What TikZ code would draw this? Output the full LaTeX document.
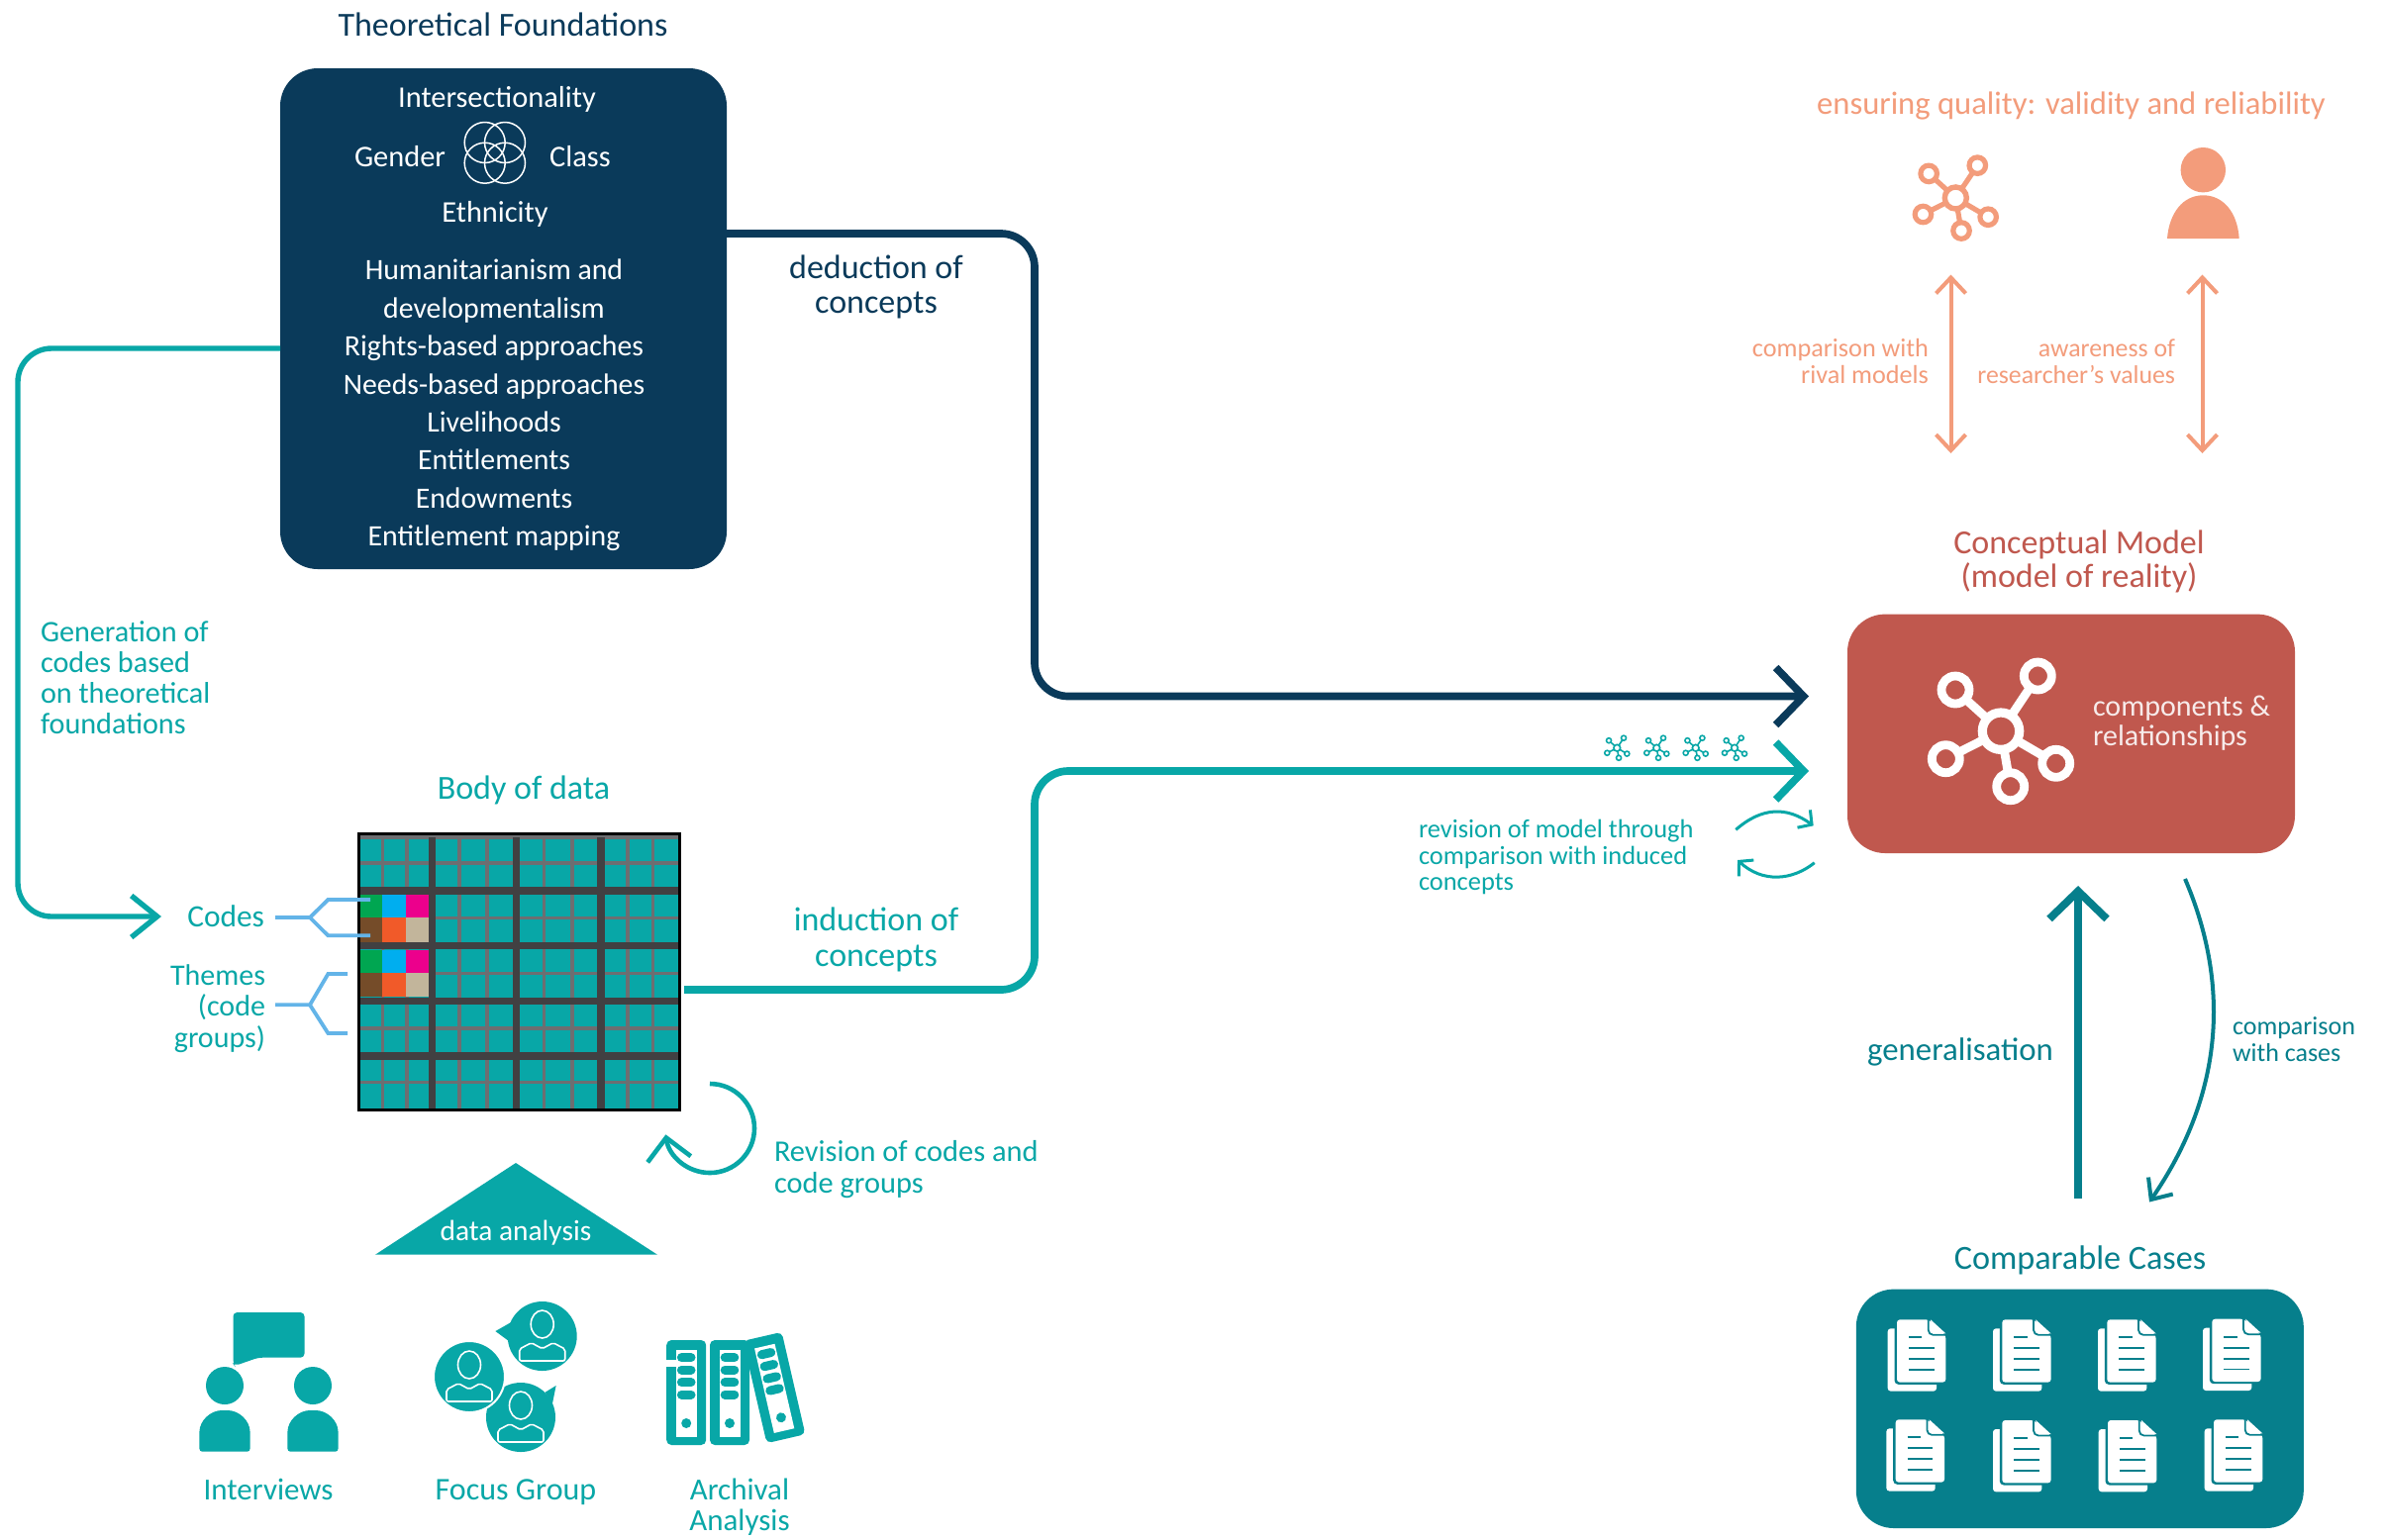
\documentclass[tikz,border=0pt]{standalone}
\usepackage{fontspec}
\setmainfont{Carlito}
\usetikzlibrary{arrows.meta}
\definecolor{navyc}{HTML}{0A3A5A}
\definecolor{tealc}{HTML}{08A7A7}
\definecolor{dteal}{HTML}{067F8C}
\definecolor{redc}{HTML}{C0584E}
\definecolor{peach}{HTML}{F39C7B}
\definecolor{blueb}{HTML}{63B4E8}
\definecolor{gmaj}{HTML}{414042}
\definecolor{gmin}{HTML}{6D6E71}
\definecolor{cga}{HTML}{00A651}
\definecolor{cgb}{HTML}{00AEEF}
\definecolor{cgc}{HTML}{EC008C}
\definecolor{cgd}{HTML}{754C29}
\definecolor{cge}{HTML}{F15A29}
\definecolor{cgf}{HTML}{C2B59B}
\newcommand{\fz}[2]{\fontsize{#1}{#2}\selectfont}
\tikzset{
 txt/.style={inner sep=0pt,outer sep=0pt,align=center,yshift=-1.5pt},
 ltxt/.style={inner sep=0pt,outer sep=0pt,align=left,anchor=west,yshift=-1.5pt},
 rtxt/.style={inner sep=0pt,outer sep=0pt,align=right,anchor=east,yshift=-1pt},
 big/.style={font=\fz{17}{17}},
 inbox/.style={font=\fz{15.2}{15.2}},
 bbox/.style={inner sep=0pt,outer sep=0pt,rounded corners=19pt,draw=none},
 bigbarb/.style={-{Straight Barb[length=14pt,width=29pt]}},
 midbarb/.style={-{Straight Barb[length=13pt,width=21pt]}},
 revbarb/.style={-{Straight Barb[length=11pt,width=22pt]}},
 compbarb/.style={-{Straight Barb[length=8.5pt,width=15pt]}},
 tinybarb/.style={-{Straight Barb[length=5pt,width=11pt]}},
 dblbarb/.style={{Straight Barb[length=8pt,width=15pt]}-{Straight Barb[length=8pt,width=15pt]}},
 thickcon/.style={line width=3.85pt,rounded corners=17pt},
}
% network icon: x y scale stroke fill
\newcommand{\netw}[5]{%
\begin{scope}[shift={(#1,#2)},x={0.5pt*#3},y={-0.5pt*#3}]
 \foreach \sx/\sy in {-46/-41.7,37.3/-55.7,-55.7/28,55.7/32.6,9.7/56}{
   \draw[#4,line width={4.4pt*#3}] (0,0)--(\sx,\sy);
   \draw[#4,fill=#5,line width={4.4pt*#3}] (\sx,\sy) circle (14);
 }
 \draw[#4,fill=#5,line width={4.6pt*#3}] (0,0) circle (18.7);
\end{scope}}
% document icon, top-left of front page
\newcommand{\docu}[2]{%
\begin{scope}[shift={(#1,#2)}]
 \fill[white,rounded corners=1.5pt] (-9.3,9) rectangle (40,72.3);
 \fill[dteal,rounded corners=2pt] (-2.5,-1) rectangle (51,65.5);
 \fill[white,rounded corners=1.5pt] (0,0)--(32,0)--(49.3,16)--(49.3,63.3)--(0,63.3)--cycle;
 \fill[dteal] (32,-2)--(52,-2)--(52,17)--cycle;
 \draw[dteal,line width=.9pt,rounded corners=2.5pt] (31.7,-1)--(31.7,15.5)--(50,15.5);
 \fill[white] (34,0)--(49.3,14)--(36,14)--cycle;
 \draw[dteal,line width=.9pt] (12,18)--(25.3,18) (12,29)--(37.5,29) (12,40)--(37.5,40) (12,50.7)--(37.5,50.7);
\end{scope}}
% binder, centred
\newcommand{\binder}[3]{%
\begin{scope}[shift={(#1,#2)},rotate=#3]
 \fill[tealc,rounded corners=2.5pt] (-20,-53) rectangle (20,53);
 \fill[white] (-10.5,-43) rectangle (10.5,44.7);
 \foreach \yy in {-35.3,-23,-10.3,2}{\draw[tealc,line width=4.5pt,line cap=round] (-4.8,\yy)--(4.8,\yy);}
 \fill[tealc] (0,31) circle (5);
\end{scope}}
% focus group person
\newcommand{\fgp}[2]{%
\begin{scope}[shift={(#1,#2)}]
 \draw[white,line width=.8pt] (0,-12) ellipse (11.5 and 14);
 \draw[white,line width=.8pt,rounded corners=1pt] (-23,25)--(-23,13)--(-11,6.7)--(0,12.7)--(11,6.7)--(23,13)--(23,25)--cycle;
\end{scope}}
\begin{document}
\begin{tikzpicture}[x=0.5pt,y=-0.5pt]
\useasboundingbox (0,0) rectangle (2409,1555);
\fill[white] (0,0) rectangle (2409,1555);

% Theoretical foundations
\node[txt,big,text=navyc] (tftitle) at (508,22) {Theoretical Foundations};
\node[bbox,fill=navyc,minimum width=225.5pt,minimum height=253pt] (found) at (508.5,322) {};
\node[txt,inbox,text=white] (inter) at (502,97) {Intersectionality};
\node[txt,inbox,text=white] (gender) at (404,155) {Gender};
\node[txt,inbox,text=white] (classn) at (586,155) {Class};
\node[txt,inbox,text=white] (ethn) at (500,213) {Ethnicity};
\foreach \cx/\cy in {489.7/144,510/144,489.7/164.7,510/164.7}{\draw[white,line width=.75pt] (\cx,\cy) circle (20.5);}
\node[txt,text=white,font=\fz{14.9}{19.2}] (tflist) at (499,406.5) {Humanitarianism and\\developmentalism\\Rights-based approaches\\Needs-based approaches\\Livelihoods\\Entitlements\\Endowments\\Entitlement mapping};

% Connectors from foundations
\coordinate (dedS) at (734,236);
\coordinate (dedE) at (1827,703.5);
\coordinate (dedC) at (1045,236);
\coordinate (dedD) at (1045,703.5);
\draw[navyc,thickcon,bigbarb] (dedS)--(dedC)--(dedD)--(dedE);
\node[txt,big,text=navyc,font=\fz{17}{17.5}] (dedl) at (885,287) {deduction of\\concepts};

\coordinate (genS) at (283,352);
\coordinate (genA) at (18,352);
\coordinate (genB) at (18,926);
\coordinate (genE) at (163,926);
\draw[tealc,line width=2.7pt,rounded corners=17pt,midbarb] (genS)--(genA)--(genB)--(genE);
\node[ltxt,text=tealc,font=\fz{15.1}{15.5}] (genl) at (41,682) {Generation of\\codes based\\on theoretical\\foundations};

% Body of data
\node[txt,big,text=tealc] (bodyt) at (529,795) {Body of data};
\node[inner sep=0pt,outer sep=0pt,fill=tealc,minimum width=161.8pt,minimum height=139.3pt] (bodyg) at (524.5,982) {};
\begin{scope}
 \foreach \xx in {386.6,411,464.2,492.2,549.6,577.9,633.8,659.4}{\fill[gmin] (\xx-1.8,844) rectangle (\xx+1.8,1120);}
 \foreach \yy in {872,927.3,983.7,1039,1093.7}{\fill[gmin] (364,\yy-1.7) rectangle (685,\yy+1.7);}
 \fill[gmin] (364,844) rectangle (685,847.5);
 \foreach \xx in {436.3,521.6,607}{\fill[gmaj] (\xx-3.8,846) rectangle (\xx+3.8,1120);}
 \foreach \yy in {900,955.3,1011.3,1067}{\fill[gmaj] (364,\yy-3.6) rectangle (685,\yy+3.6);}
 \foreach \ya/\yb/\yc in {903.7/927/952,959.7/983/1007.3}{
  \fill[cga] (364,\ya) rectangle (386,\yb);
  \fill[cgb] (386,\ya) rectangle (410,\yb);
  \fill[cgc] (410,\ya) rectangle (432.5,\yb);
  \fill[cgd] (364,\yb) rectangle (386,\yc);
  \fill[cge] (386,\yb) rectangle (410,\yc);
  \fill[cgf] (410,\yb) rectangle (432.5,\yc);
 }
 \draw[black,line width=1.7pt] (bodyg.south west) rectangle (bodyg.north east);
\end{scope}
% brackets
\coordinate (cb) at (313,927); \coordinate (cs) at (278,927);
\coordinate (cu) at (331.4,909); \coordinate (cue) at (374,909);
\coordinate (cd) at (331.4,945.3); \coordinate (cde) at (374,945.3);
\draw[blueb,line width=1.9pt] (cs)--(cb)--(cu)--(cue) (cb)--(cd)--(cde);
\coordinate (tb) at (313,1015.3); \coordinate (ts) at (278,1015.3);
\coordinate (tu) at (331.4,984); \coordinate (tue) at (351,984);
\coordinate (td) at (331.4,1044); \coordinate (tde) at (351,1044);
\draw[blueb,line width=1.9pt] (ts)--(tb)--(tu)--(tue) (tb)--(td)--(tde);
\node[rtxt,text=tealc,font=\fz{15.7}{15}] (codesl) at (267,923.5) {Codes};
\node[rtxt,text=tealc,font=\fz{15}{15.8}] (themesl) at (268,1017) {Themes\\(code\\groups)};

% Induction
\coordinate (indS) at (691,1000);
\coordinate (indC) at (1045,1000);
\coordinate (indD) at (1045,779);
\coordinate (indE) at (1827,779);
\draw[tealc,thickcon,bigbarb] (indS)--(indC)--(indD)--(indE);
\node[txt,text=tealc,font=\fz{17}{18}] (indl) at (885,946) {induction of\\concepts};
\foreach \xx in {1633.3,1673.3,1712.7,1752}{\netw{\xx}{755.7}{0.18}{tealc}{white}}

% Revision arrow
\coordinate (revS) at (717,1095);
\draw[tealc,line width=2.3pt,revbarb] (revS) arc (-90:172:45);
\node[ltxt,text=tealc,font=\fz{15.2}{16}] (revl) at (782,1179) {Revision of codes and\\code groups};

% Data analysis
\fill[tealc] (521,1175)--(664,1267.7)--(379,1267.7)--cycle;
\node[txt,text=white,font=\fz{14.7}{15}] (dal) at (521,1243) {data analysis};

% Interviews
\fill[tealc,rounded corners=2pt] (235.5,1326)--(307.5,1326)--(307.5,1371.7)--(261,1371.7)--(237,1380)--(235.5,1378)--cycle;
\foreach \px in {227,316}{
 \fill[tealc] (\px,1400) circle (19);
 \fill[tealc,rounded corners=1.5pt] (\px-25.6,1466.7)--(\px-25.6,1450) .. controls (\px-25.6,1435) and (\px-14,1425) .. (\px,1425) .. controls (\px+14,1425) and (\px+25.6,1435) .. (\px+25.6,1450)--(\px+25.6,1466.7)--cycle;
}
\node[txt,text=tealc,font=\fz{15.5}{15}] (intl) at (271,1502) {Interviews};

% Focus group
\fill[tealc] (547.7,1350) circle (35);
\fill[tealc] (500.4,1345)--(518,1335)--(518,1358)--cycle;
\fgp{547.7}{1350}
\fill[tealc] (526,1432) circle (35);
\fill[tealc] (561.6,1400)--(550.7,1406.7)--(558,1418)--cycle;
\fgp{526}{1432}
\draw[white,line width=1pt,fill=tealc] (474,1391) circle (36);
\fgp{474}{1391}
\node[txt,text=tealc,font=\fz{16}{15}] (fgl) at (521,1505) {Focus Group};

% Binders
\binder{782}{1402}{13}
\binder{693.2}{1407}{0}
\binder{737}{1407}{0}
\fill[white] (672,1374) rectangle (682.6,1381);
\node[txt,text=tealc,font=\fz{15.5}{15.5}] (arcl) at (747,1520) {Archival\\Analysis};

% Quality
\node[txt,text=peach,font=\fz{16.3}{17}] (qual) at (2092,104) {ensuring quality: validity and reliability};
\netw{1975.3}{200}{0.59}{peach}{white}
\fill[peach] (2225.3,171.7) circle (22.7);
\fill[peach] (2189,241) .. controls (2191,215) and (2205,197.3) .. (2225.3,197.3) .. controls (2246,197.3) and (2260,215) .. (2261.7,241)--cycle;
\coordinate (q1a) at (1970.5,277.5); \coordinate (q1b) at (1970.5,458);
\coordinate (q2a) at (2224.5,277.5); \coordinate (q2b) at (2224.5,458);
\draw[peach,line width=2pt,dblbarb] (q1a)--(q1b);
\draw[peach,line width=2pt,dblbarb] (q2a)--(q2b);
\node[rtxt,text=peach,font=\fz{13.1}{13.5}] (q1l) at (1948,363) {comparison with\\rival models};
\node[rtxt,text=peach,font=\fz{12.9}{13.5}] (q2l) at (2197,363) {awareness of\\researcher's values};

% Conceptual model
\node[txt,text=redc,font=\fz{17}{17}] (cmt) at (2100,564) {Conceptual Model\\(model of reality)};
\node[bbox,fill=redc,minimum width=226pt,minimum height=120.7pt] (cm) at (2092,741.3) {};
\netw{2021}{738.7}{1}{white}{redc}
\node[ltxt,text=white!88!redc,font=\fz{15}{15}] (compl) at (2114,728) {components \&\\relationships};

% revision arcs
\node[ltxt,text=tealc,font=\fz{13.2}{13.2}] (revm) at (1433,863) {revision of model through\\comparison with induced\\concepts};
\coordinate (raS) at (1753.3,838.3); \coordinate (raE) at (1831.7,834.3);
\coordinate (rbS) at (1832.7,871.7); \coordinate (rbE) at (1755,869);
\draw[tealc,line width=1.5pt,tinybarb] (raS) .. controls (1780,815) and (1805,815) .. (raE);
\draw[tealc,line width=1.5pt,tinybarb] (rbS) .. controls (1810,890) and (1780,892) .. (rbE);

% Comparable cases
\coordinate (gS) at (2099,1211); \coordinate (gE) at (2099,895);
\draw[dteal,line width=3.9pt,bigbarb] (gS)--(gE);
\node[txt,text=dteal,font=\fz{16.4}{17}] (genlab) at (1980,1060) {generalisation};
\coordinate (cS) at (2207,888); \coordinate (cE) at (2171,1214.5);
\draw[dteal,line width=2pt,compbarb] (cS) .. controls (2255,1000) and (2243,1110) .. (cE);
\node[ltxt,text=dteal,font=\fz{13}{13.4}] (cwc) at (2255,1047) {comparison\\with cases};
\node[txt,text=dteal,font=\fz{17.1}{17}] (cct) at (2101,1270) {Comparable Cases};
\node[bbox,fill=dteal,minimum width=226pt,minimum height=120.7pt] (cc) at (2100.8,1423.3) {};
\foreach \dx/\dy in {1916/1333.3,2022.3/1333.3,2128.3/1333.3,2234.3/1332.7,1914.7/1434.3,2022.3/1435,2129/1435,2236/1434.3}{\docu{\dx}{\dy}}
\end{tikzpicture}
\end{document}
